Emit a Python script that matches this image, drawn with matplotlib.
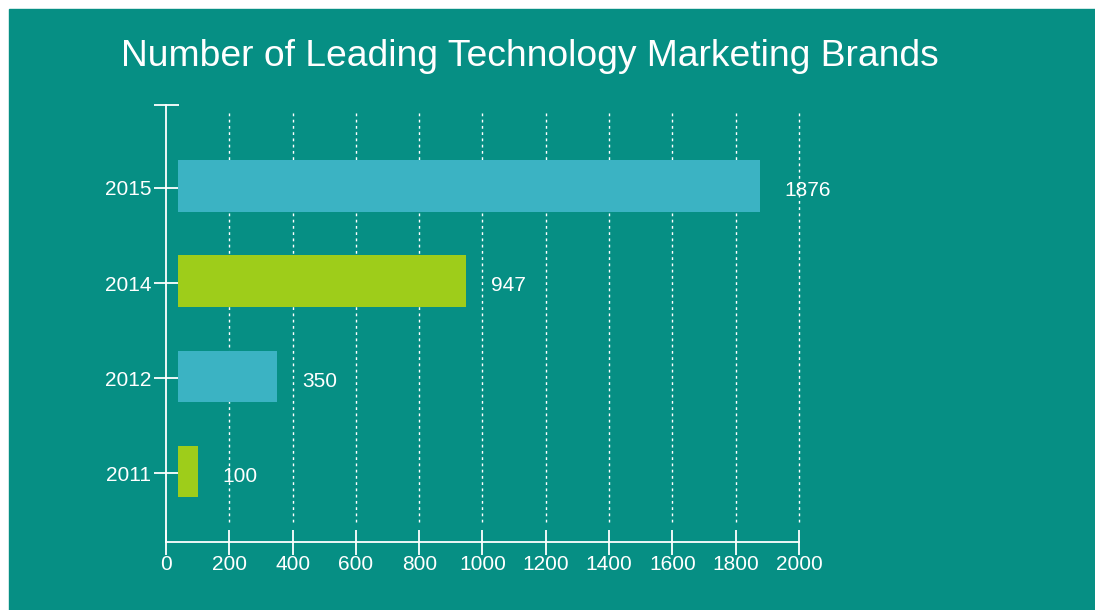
import matplotlib.pyplot as plt
from matplotlib.patches import Rectangle

years = ['2011', '2012', '2014', '2015']
brands = [100, 350, 947, 1876]
bar_colors = ['#9ecd1a', '#3bb3c3', '#9ecd1a', '#3bb3c3']
x_ticks = [0, 200, 400, 600, 800, 1000, 1200, 1400, 1600, 1800, 2000]

bg = '#068f84'
W, H = 1095, 610
plt.rcParams['font.family'] = ['Liberation Sans', 'DejaVu Sans']

fig = plt.figure(figsize=(W / 100, H / 100), dpi=100)
fig.patch.set_facecolor('white')
fig.patches.append(Rectangle((9 / W, 0), 1 - 9 / W, (H - 9) / H,
                             transform=fig.transFigure, color=bg, zorder=-5))

ax = fig.add_axes([166 / W, (H - 542) / H, (799 - 166) / W, (542 - 105) / H])
ax.set_facecolor('none')

bar_start = 38
pos = range(len(years))
ax.barh([p + 0.02 for p in pos], [b - bar_start for b in brands], left=bar_start,
        height=0.54, color=bar_colors, zorder=2)
for p, b in zip(pos, brands):
    ax.annotate(str(b), (b, p), xytext=(18, -2), textcoords='offset points',
                color='white', fontsize=15, va='center', ha='left', zorder=3)

ax.set_xlim(0, 2000)
ax.set_ylim(-0.72, 3.87)
for t in x_ticks[1:]:
    ax.axvline(t, ymin=0.045, ymax=0.985, color='white', lw=1,
               linestyle=(0, (2, 2.5)), zorder=1, clip_on=False)

ax.set_xticks(x_ticks)
ax.set_xticklabels([str(t) for t in x_ticks])
ax.set_yticks(list(pos) + [3.87])
ax.set_yticklabels(years + [''])
ax.tick_params(colors='white', labelsize=15, width=1.3, length=18,
               direction='inout')
ax.tick_params(axis='x', pad=0)
ax.tick_params(axis='y', pad=1.5)
for side in ['top', 'right']:
    ax.spines[side].set_visible(False)
for side in ['left', 'bottom']:
    ax.spines[side].set_color('white')
    ax.spines[side].set_linewidth(1.3)

fig.text(529.5 / W, (H - 57) / H, 'Number of Leading Technology Marketing Brands',
         color='white', fontsize=26.8, ha='center', va='center')

fig.savefig('out.png', dpi=100, facecolor=fig.get_facecolor())
